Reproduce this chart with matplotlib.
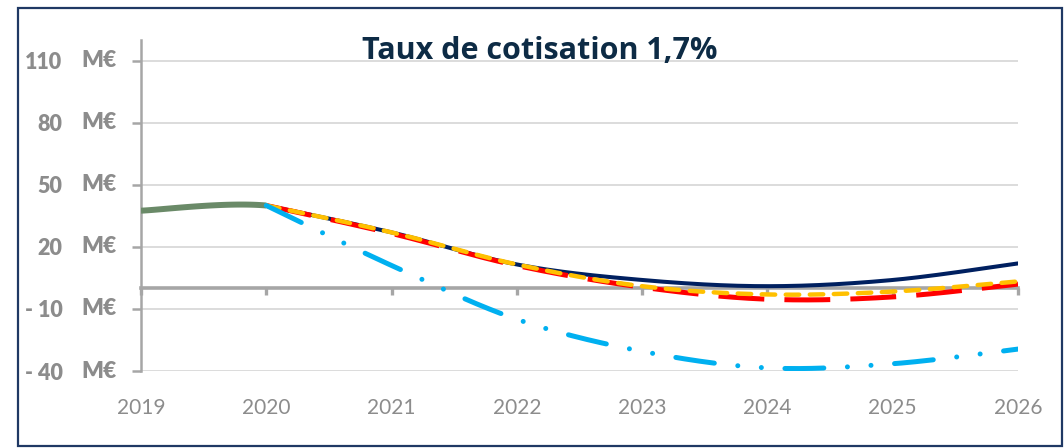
import numpy as np
import matplotlib
matplotlib.use("Agg")
import matplotlib.pyplot as plt
from matplotlib.patches import Rectangle
import matplotlib.transforms as mtransforms

plt.rcParams['font.family'] = ['Lato', 'DejaVu Sans']
plt.rcParams['lines.scale_dashes'] = False

# ---- data ----
hist_years = [2019, 2020]
historique = [37.5, 40.0]
years = [2020, 2021, 2022, 2023, 2024, 2025, 2026]
scen_navy = [40.0, 27.0, 11.5, 4.0, 1.0, 4.0, 12.0]
scen_red = [40.0, 26.5, 11.0, 0.5, -5.3, -4.2, 2.0]
scen_yellow = [40.0, 27.0, 11.5, 1.0, -3.0, -1.6, 3.3]
scen_cyan = [40.0, 11.0, -15.0, -30.5, -38.5, -36.5, -29.4]
yticks = [-40, -10, 20, 50, 80, 110]
xticks = [2019, 2020, 2021, 2022, 2023, 2024, 2025, 2026]
title = "Taux de cotisation 1,7%"


def smooth(xs, ys, n=60):
    """Excel-style smoothed line (Bezier with 1/6 neighbour tangents)."""
    P = np.column_stack([xs, ys]).astype(float)
    out = []
    m = len(P)
    for i in range(m - 1):
        p0 = P[i - 1] if i > 0 else P[i]
        p1 = P[i]
        p2 = P[i + 1]
        p3 = P[i + 2] if i + 2 < m else P[i + 1]
        c1 = p1 + (p2 - p0) / 6.0
        c2 = p2 - (p3 - p1) / 6.0
        t = np.linspace(0, 1, n)[:, None]
        seg = ((1 - t) ** 3) * p1 + 3 * ((1 - t) ** 2) * t * c1 + 3 * (1 - t) * t ** 2 * c2 + t ** 3 * p2
        out.append(seg if i == 0 else seg[1:])
    c = np.vstack(out)
    return c[:, 0], c[:, 1]


W, H = 1064, 448
fig = plt.figure(figsize=(W / 100, H / 100), dpi=100)
ax = fig.add_axes([141 / W, 1 - 371 / H, 877 / W, 331 / H])

grey = '#A6A6A6'
ax.set_xlim(2019, 2026)
ax.set_ylim(-40, 120)
ax.set_yticks(yticks)
ax.grid(axis='y', color='#D9D9D9', linewidth=1.3)
ax.set_axisbelow(True)
for s in ['top', 'right']:
    ax.spines[s].set_visible(False)
ax.spines['left'].set_color(grey)
ax.spines['left'].set_linewidth(1.8)
ax.spines['bottom'].set_position(('data', 0))
ax.spines['bottom'].set_color(grey)
ax.spines['bottom'].set_linewidth(2.6)
ax.spines['bottom'].set_zorder(1.5)

ax.set_xticks(xticks)
ax.set_xticklabels([str(x) for x in xticks], color='#8C8C8C', fontsize=15)
ax.tick_params(axis='x', direction='out', length=5, width=2.4, color=grey, pad=74)

ax.set_yticklabels([("- " + str(-v)) if v < 0 else str(v) for v in yticks],
                   color='#8C8C8C', fontsize=15.5, fontweight='heavy')
ax.tick_params(axis='y', direction='out', length=6.5, width=1.8, color=grey, pad=50)
trans = mtransforms.blended_transform_factory(fig.transFigure, ax.transData)
for v in yticks:
    ax.text(81 / W, v, "M€", transform=trans, ha='left', va='center',
            color='#8C8C8C', fontsize=16.5, fontweight='heavy')

# historic (green) segment with tangent from next projected point
gx, gy = smooth(hist_years + [years[1]], historique + [scen_navy[1]])
mask = gx <= 2020
ax.plot(gx[mask], gy[mask], color='#6A8A68', lw=4.3, solid_capstyle='butt', zorder=3)

x, y = smooth(years, scen_navy)
ax.plot(x, y, color='#002060', lw=2.9, solid_capstyle='round', zorder=3)
x, y = smooth(years, scen_red)
ax.plot(x, y, color='#FF0000', lw=3.6, dashes=(33, 14.5), dash_capstyle='butt', zorder=4)
x, y = smooth(years, scen_yellow)
ax.plot(x, y, color='#FFC000', lw=3.2, dashes=(9.7, 7.6), dash_capstyle='round', zorder=5)
x, y = smooth(years, scen_cyan)
ax.plot(x, y, color='#00B0F0', lw=3.6, dashes=(28, 17, 0.01, 17, 0.01, 17),
        dash_capstyle='round', zorder=6)

fig.text(540 / W, 1 - 59 / H, title, ha='center', va='baseline',
         fontsize=22, fontweight='bold', color='#0D2B45',
         family=['Open Sans', 'DejaVu Sans'])

fig.patches.append(Rectangle((18 / W, 1 - 446 / H), 1044 / W, 438 / H,
                             transform=fig.transFigure, fill=False,
                             edgecolor='#1F3864', linewidth=1.6))

fig.savefig('out.png', dpi=100)
